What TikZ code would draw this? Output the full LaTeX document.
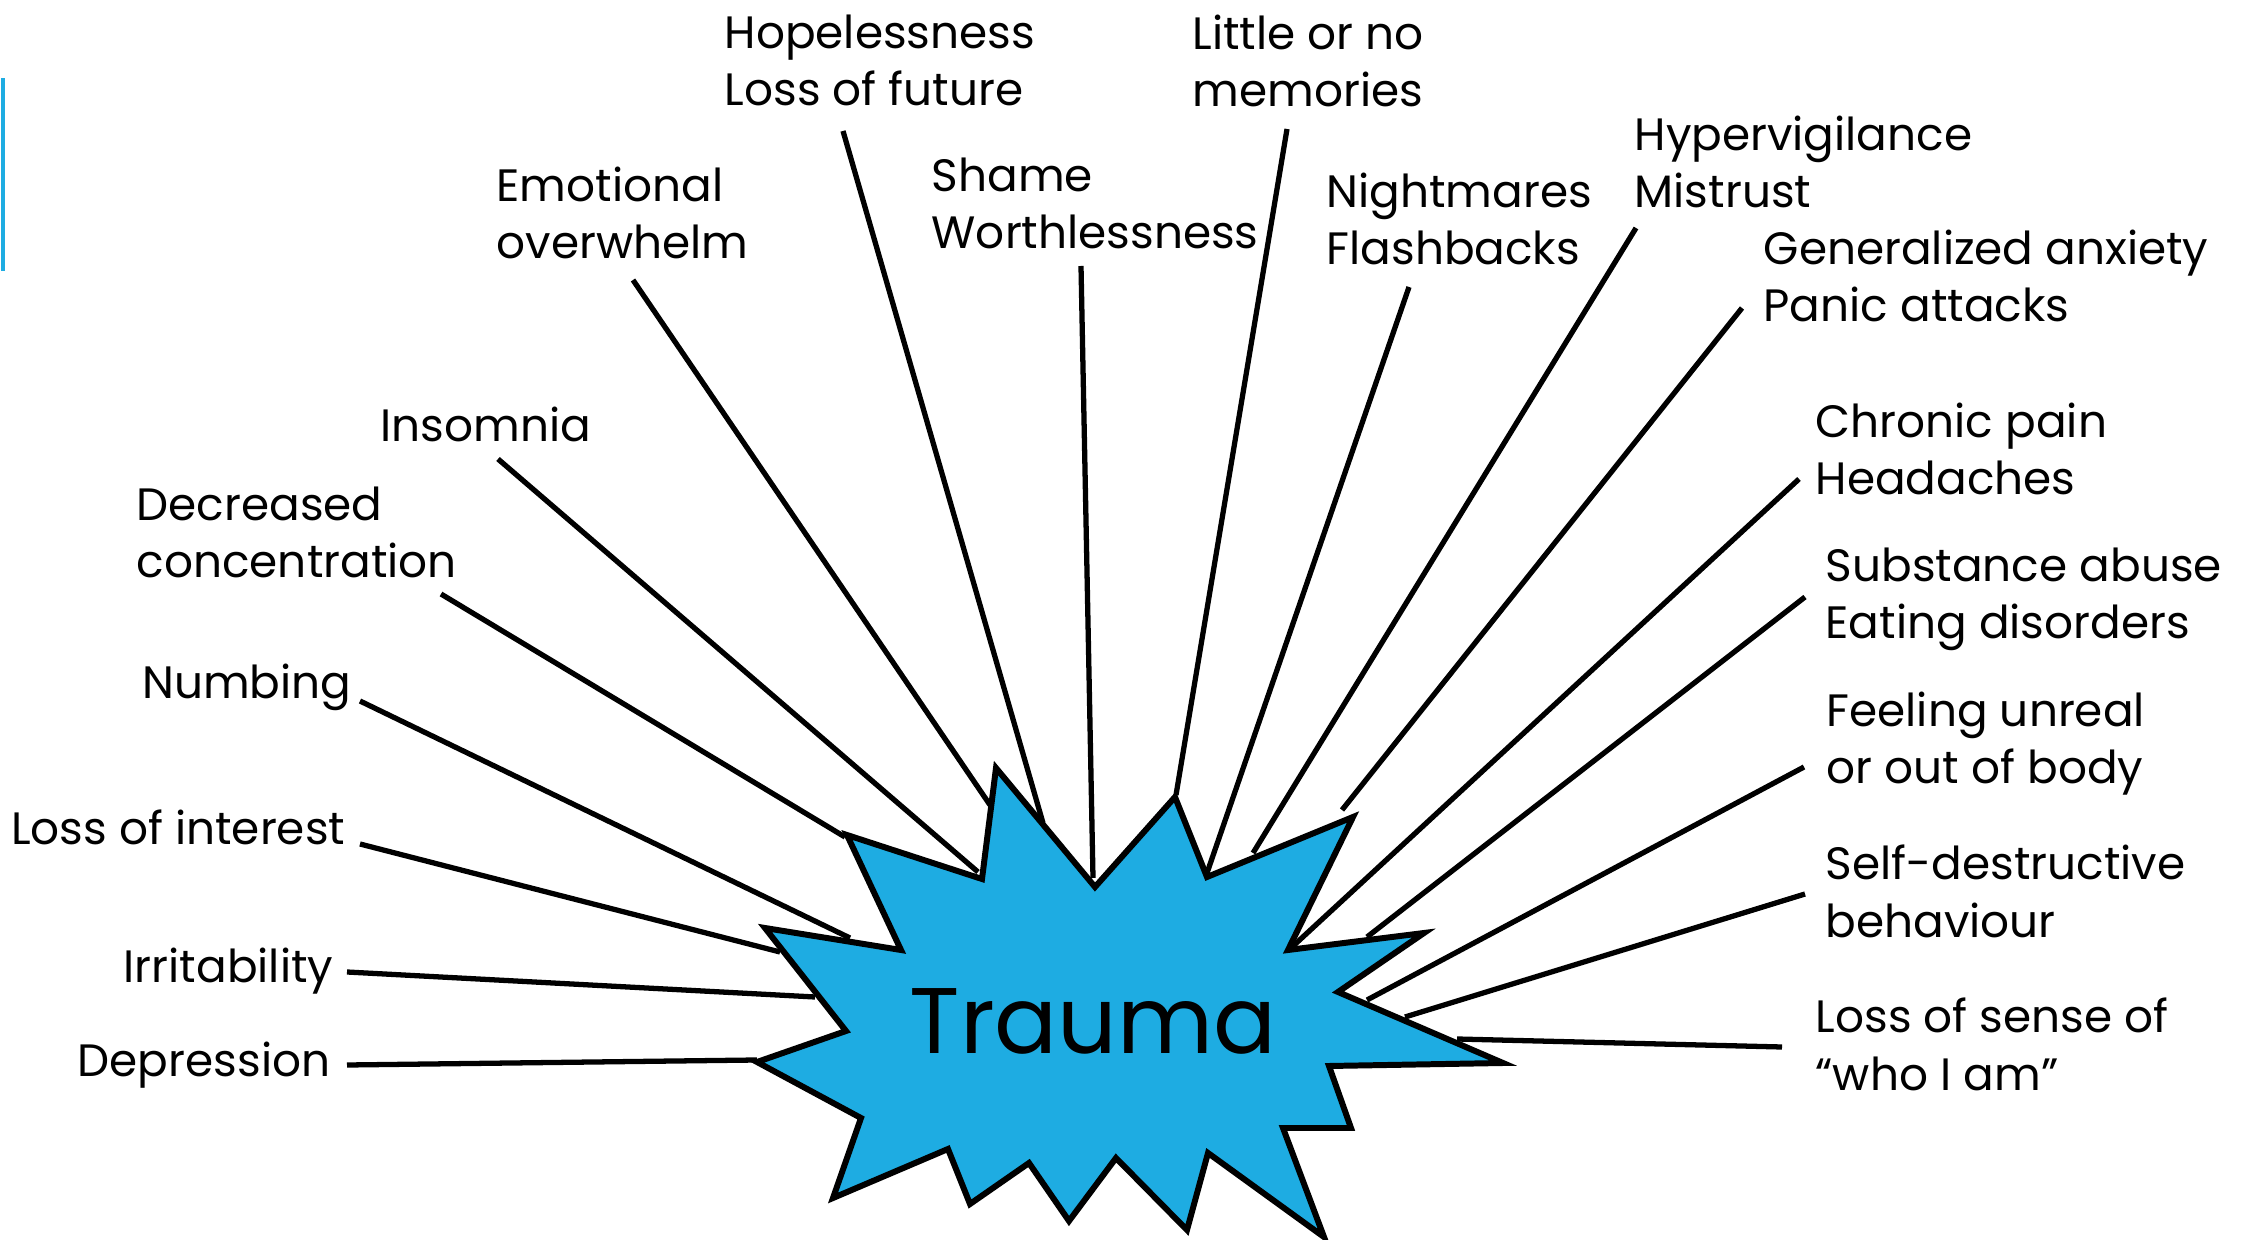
\documentclass[tikz,border=0pt]{standalone}
\usepackage{fontspec}
\setmainfont{Poppins}
\definecolor{burstblue}{RGB}{30,172,226}

\begin{document}
\begin{tikzpicture}[x=0.01cm,y=-0.01cm,
  lbl/.style={anchor=base west,inner sep=0pt,align=left,
    font=\fontsize{12.9}{16.35}\selectfont},
  lblr/.style={lbl,anchor=base east},
  spoke/.style={line width=1.5pt},
  burst/.style={fill=burstblue,draw=black,line width=1.7pt,line join=miter}]

  \useasboundingbox (0,0) rectangle (2257,1240);
  \fill[burstblue] (1,78) rectangle (5,271);

  % Nodes (two-line labels sit on their last baseline)
  \node[lbl] (hope)    at (724,106)   {Hopelessness\\Loss of future};
  \node[lbl] (little)  at (1192,107)  {Little or no\\memories};
  \node[lbl] (emo)     at (496,259)   {Emotional\\overwhelm};
  \node[lbl] (shame)   at (931,249)   {Shame\\Worthlessness};
  \node[lbl] (night)   at (1326,265)  {Nightmares\\Flashbacks};
  \node[lbl] (hyper)   at (1634,208)  {Hypervigilance\\Mistrust};
  \node[lbl] (anx)     at (1763,322)  {Generalized anxiety\\Panic attacks};
  \node[lbl] (pain)    at (1815,495)  {Chronic pain\\Headaches};
  \node[lbl] (subst)   at (1825,639)  {Substance abuse\\Eating disorders};
  \node[lbl] (unreal)  at (1826,784)  {Feeling unreal\\or out of body};
  \node[lbl] (selfd)   at (1825,937)  {Self-destructive\\behaviour};
  \node[lbl] (self)    at (1815,1090) {Loss of sense of\\“who I am”};
  \node[lbl] (insom)   at (380,442)   {Insomnia};
  \node[lbl] (conc)    at (136,578)   {Decreased\\concentration};
  \node[lblr] (numb)   at (352,699)   {Numbing};
  \node[lblr] (inter)  at (346,845)   {Loss of interest};
  \node[lblr] (irrit)  at (334,982)   {Irritability};
  \node[lblr] (depr)   at (331,1076)  {Depression};

  % Line ends, outer (a) and on the burst (b)
  \coordinate (hope-a)   at (843,131);   \coordinate (hope-b)   at (1043,823);
  \coordinate (little-a) at (1287,129);  \coordinate (little-b) at (1176,795);
  \coordinate (emo-a)    at (633,280);   \coordinate (emo-b)    at (990,805);
  \coordinate (shame-a)  at (1081,266);  \coordinate (shame-b)  at (1093,878);
  \coordinate (night-a)  at (1409,287);  \coordinate (night-b)  at (1207,873);
  \coordinate (hyper-a)  at (1636,228);  \coordinate (hyper-b)  at (1253,853);
  \coordinate (anx-a)    at (1742,308);  \coordinate (anx-b)    at (1342,810);
  \coordinate (pain-a)   at (1799,479);  \coordinate (pain-b)   at (1292,947);
  \coordinate (subst-a)  at (1805,597);  \coordinate (subst-b)  at (1367,937);
  \coordinate (unreal-a) at (1804,767);  \coordinate (unreal-b) at (1367,1000);
  \coordinate (selfd-a)  at (1805,894);  \coordinate (selfd-b)  at (1405,1017);
  \coordinate (self-a)   at (1782,1047); \coordinate (self-b)   at (1457,1039);
  \coordinate (insom-a)  at (498,459);   \coordinate (insom-b)  at (978,872);
  \coordinate (conc-a)   at (441,594);   \coordinate (conc-b)   at (845,837);
  \coordinate (numb-a)   at (360,701);   \coordinate (numb-b)   at (850,938);
  \coordinate (inter-a)  at (360,844);   \coordinate (inter-b)  at (780,952);
  \coordinate (irrit-a)  at (347,972);   \coordinate (irrit-b)  at (815,997);
  \coordinate (depr-a)   at (347,1065);  \coordinate (depr-b)   at (757,1060);

  % Lines
  \foreach \n in {hope,little,emo,shame,night,hyper,anx,pain,subst,unreal,
                  selfd,self,insom,conc,numb,inter,irrit,depr}
    \draw[spoke] (\n-a) -- (\n-b);

  % Burst
  \filldraw[burst] (996,768) -- (1095,887) -- (1175,797) -- (1207,877)
    -- (1353,817) -- (1288,950) -- (1424,933) -- (1338,992) -- (1503,1063)
    -- (1329,1066) -- (1351,1128) -- (1283,1128) -- (1324,1237) -- (1208,1153)
    -- (1187,1230) -- (1116,1158) -- (1069,1221) -- (1029,1163) -- (970,1204)
    -- (948,1149) -- (833,1198) -- (861,1118) -- (757,1062) -- (846,1031)
    -- (765,928) -- (901,950) -- (847,835) -- (982,879) -- cycle;
  \node[anchor=base,inner sep=0pt,font=\fontsize{26.5}{26.5}\selectfont] (trauma)
    at (1093,1053) {Trauma};
\end{tikzpicture}
\end{document}
